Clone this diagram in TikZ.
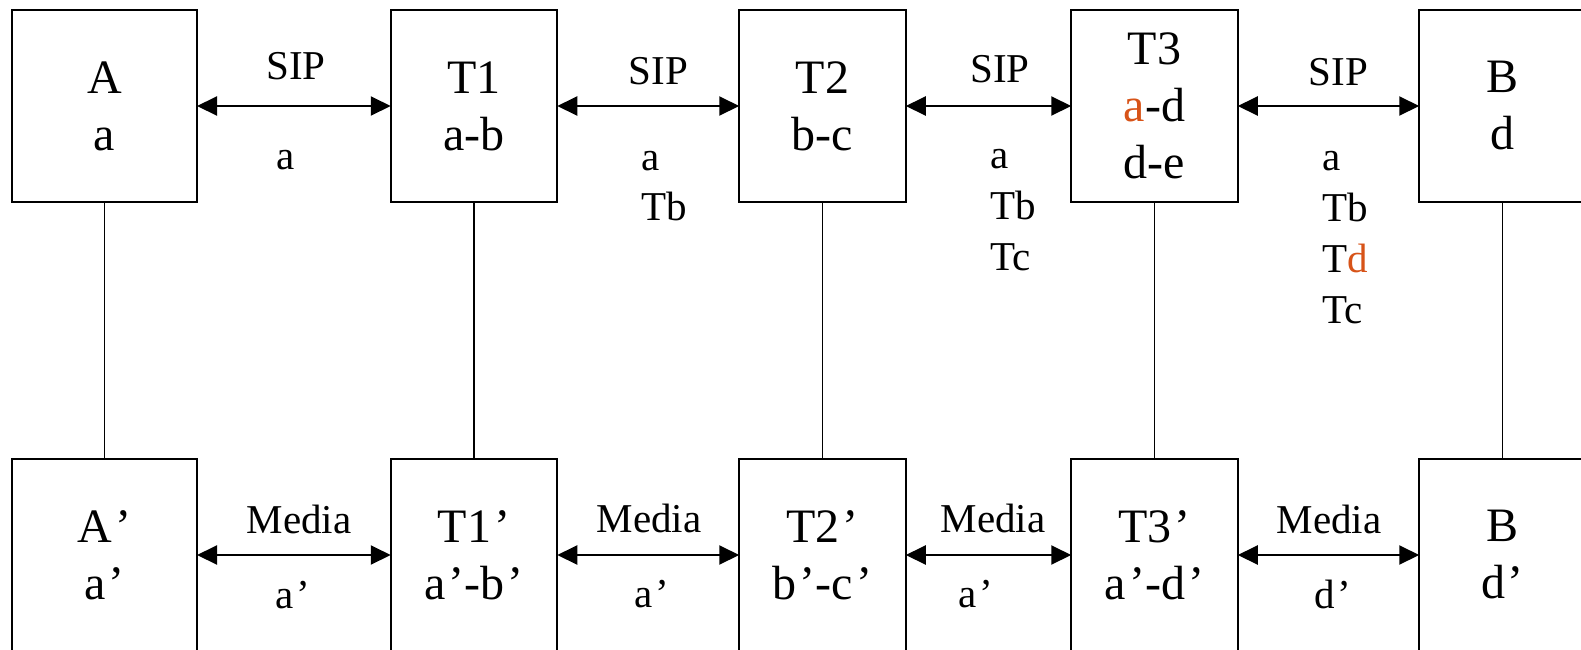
\documentclass[tikz,border=0pt]{standalone}
\usepackage{fontspec}
\setmainfont{Liberation Serif}
\usetikzlibrary{arrows.meta}
\definecolor{hl}{RGB}{215,83,24}
\newcommand{\apq}{\kern1.5pt’}
\begin{document}
\begin{tikzpicture}[x=0.5pt,y=-0.5pt,
  box/.style={draw, line width=0.8pt, rectangle, inner sep=0pt, outer sep=0pt,
    minimum height=96pt, align=center, font=\fontsize{24}{28.5}\selectfont},
  wbox/.style={box, minimum width=92.5pt},
  nbox/.style={box, minimum width=83.25pt},
  dbl/.style={line width=1pt, {Triangle[length=10pt,width=9.5pt]}-{Triangle[length=10pt,width=9.5pt]}},
  vline/.style={line width=0.75pt},
  lab/.style={inner sep=0pt, anchor=base, font=\fontsize{20.5}{25.5}\selectfont},
  lst/.style={inner sep=0pt, anchor=base west, font=\fontsize{20.5}{25.5}\selectfont}]
\useasboundingbox (0,0) rectangle (1581,649);
\clip (0,0) rectangle (1581,649);
% top row
\node[wbox] (A)  at (104.5,106) {A\\a};
\node[nbox] (T1) at (474,106)   {T1\\a-b};
\node[nbox] (T2) at (822.5,106) {T2\\b-c};
\node[nbox] (T3) at (1154.5,106) {T3\\\textcolor{hl}{a}-d\\d-e};
\node[nbox] (B)  at (1502.5,106) {B\\d};
% bottom row
\node[wbox] (Ap)  at (104.5,555) {A\apq\\a\apq};
\node[nbox] (T1p) at (474,555)   {T1\apq\\a\apq-b\apq};
\node[nbox] (T2p) at (822.5,555) {T2\apq\\b\apq-c\apq};
\node[nbox] (T3p) at (1154.5,555) {T3\apq\\a\apq-d\apq};
\node[nbox] (Bp)  at (1502.5,555) {B\\d\apq};
% vertical links
\draw[vline] (A.south) -- (Ap.north);
\draw[vline] (T1.south) -- (T1p.north);
\draw[vline] (T2.south) -- (T2p.north);
\draw[vline] (T3.south) -- (T3p.north);
\draw[vline] (B.south) -- (Bp.north);
% SIP arrows
\draw[dbl] (A.east) -- (T1.west);
\draw[dbl] (T1.east) -- (T2.west);
\draw[dbl] (T2.east) -- (T3.west);
\draw[dbl] (T3.east) -- (B.west);
% media arrows
\draw[dbl] (Ap.east) -- (T1p.west);
\draw[dbl] (T1p.east) -- (T2p.west);
\draw[dbl] (T2p.east) -- (T3p.west);
\draw[dbl] (T3p.east) -- (Bp.west);
% SIP labels
\node[lab] (s1) at (296,79) {SIP};
\node[lab] (s2) at (658.5,84) {SIP};
\node[lab] (s3) at (1000,82) {SIP};
\node[lab] (s4) at (1338.5,85) {SIP};
% lists under SIP arrows
\node[lab] (l1a) at (286,169) {a};
\node[lst] (l2a) at (641,170) {a};
\node[lst] (l2b) at (641,220) {Tb};
\node[lst] (l3a) at (990,168) {a};
\node[lst] (l3b) at (990,219) {Tb};
\node[lst] (l3c) at (990,270) {Tc};
\node[lst] (l4a) at (1322,170) {a};
\node[lst] (l4b) at (1322,221) {Tb};
\node[lst] (l4c) at (1322,272) {T\textcolor{hl}{d}};
\node[lst] (l4d) at (1322,323) {Tc};
% media labels
\node[lab] (m1) at (299,533) {Media};
\node[lab] (m2) at (649,532) {Media};
\node[lab] (m3) at (993,532) {Media};
\node[lab] (m4) at (1329,533) {Media};
\node[lab] (n1) at (293,608) {a\apq};
\node[lab] (n2) at (652,607) {a\apq};
\node[lab] (n3) at (976,607) {a\apq};
\node[lab] (n4) at (1333,608) {d\apq};
\end{tikzpicture}
\end{document}
